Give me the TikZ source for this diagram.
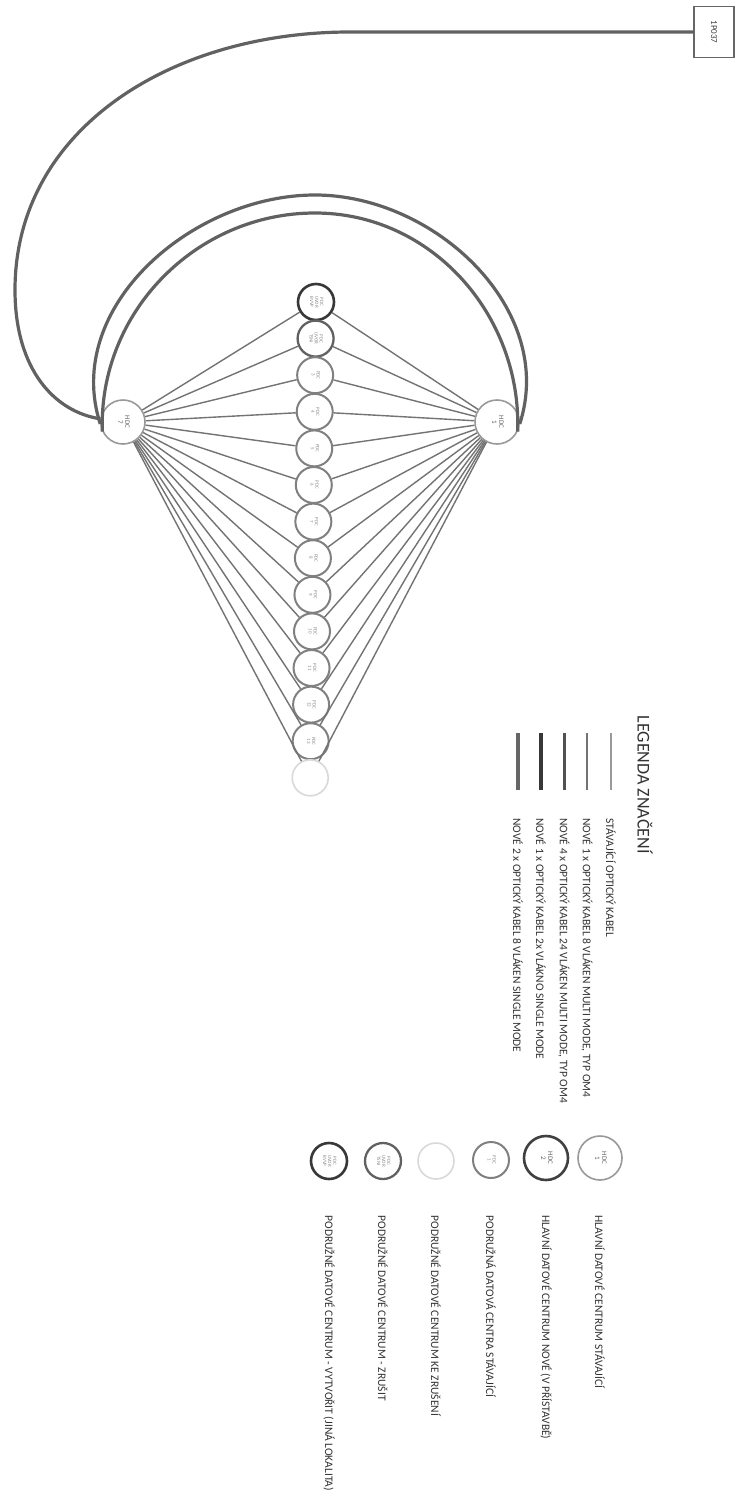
\documentclass[tikz,border=0pt]{standalone}
\usepackage{fontspec}
\setmainfont{Carlito}
\usetikzlibrary{calc}

\tikzset{
  hdc/.style={circle, minimum size=44pt, inner sep=0pt, draw=black!40, line width=1.6pt,
    font=\fontsize{7}{7}\selectfont, text=black!60},
  hdcnew/.style={hdc, draw=black!75, line width=2.6pt},
  pdc/.style={circle, minimum size=36pt, inner sep=0pt, draw=black!50, line width=2pt,
    font=\fontsize{5}{5}\selectfont, text=black!45},
  pdcnew/.style={pdc, draw=black!78, line width=2.6pt},
  pdcdel/.style={pdc, draw=black!62, line width=2.3pt},
  pdcold/.style={pdc, draw=black!15, line width=1.6pt},
  fibre/.style={black!55, line width=1.4pt},
  trunk/.style={black!62, line width=3.2pt},
  legtext/.style={rotate=-90, anchor=west, font=\fontsize{11.5}{11.5}\selectfont, text=black!80},
}
\newcommand{\rotlbl}[1]{\rotatebox{-90}{\begin{tabular}{@{}c@{}}#1\end{tabular}}}

\begin{document}
\begin{tikzpicture}[x=1pt, y=-1pt]
\useasboundingbox (0,0) rectangle (743,1501);
\fill[white] (0,0) rectangle (743,1501);

% hlavni datova centra
\node[hdc] (h7) at (123,422) {\rotlbl{HDC\\7}};
\node[hdc] (h1) at (497,422) {\rotlbl{HDC\\1}};
\node[draw=black!60, line width=1.5pt, minimum width=40pt, minimum height=51pt, inner sep=0pt,
  font=\fontsize{9}{9}\selectfont, text=black!75] (ext) at (714,32) {\rotatebox{-90}{1P037}};

% podruzna datova centra
\node[pdcnew] (p1) at (316,302) {\rotlbl{PDC\\UVOR\\BVVP}};
\node[pdcdel] (p2) at (315.6,338.6) {\rotlbl{PDC\\UVOR\\TSNI}};
\foreach \i in {3,...,13}
  \node[pdc] (p\i) at ({316.5-0.45*\i},{265.4+36.6*\i}) {\rotlbl{PDC\\\i}};
\node[pdcold] (p14) at (310.2,777.8) {};

% propojeni
\foreach \i in {1,...,14} {
  \draw[fibre] (h7) -- (p\i);
  \draw[fibre] (h1) -- (p\i);
}
\coordinate (ta) at (315,195);
\coordinate (tb) at (315,213);
\draw[trunk] (h7.185) to[out=108,in=180] (ta) to[out=0,in=72] (h1.-5);
\draw[trunk] (h7.205) to[out=92,in=180] (tb) to[out=0,in=88] (h1.-25);
\coordinate (bend) at (350,32);
\draw[trunk] (h7.172) .. controls (55,412) and (15,370) .. (15,290)
  .. controls (15,130) and (170,32) .. (bend) -- (ext);

% legenda vedeni
\node[rotate=-90, anchor=west, font=\fontsize{18}{18}\selectfont, text=black!80] (legtitle)
  at (645,712) {LEGENDA ZNAČENÍ};
\foreach \x/\col/\w/\txt in {
  611/black!40/1.5/{STÁVAJÍCÍ OPTICKÝ KABEL},
  587/black!55/2/{NOVÉ 1 x OPTICKÝ KABEL 8 VLÁKEN MULTI MODE, TYP OM4},
  564/black!68/3/{NOVÉ 4 x OPTICKÝ KABEL 24 VLÁKEN MULTI MODE, TYP OM4},
  541/black!78/3.5/{NOVÉ 1 x OPTICKÝ KABEL 2x VLÁKNO SINGLE MODE},
  518/black!60/4/{NOVÉ 2 x OPTICKÝ KABEL 8 VLÁKEN SINGLE MODE}} {
  \draw[draw=\col, line width=\w pt] (\x,733) -- (\x,790);
  \node[legtext] at (\x,815) {\txt};
}

% legenda uzlu
\node[hdc] (lh1) at (600,1158) {\rotlbl{HDC\\1}};
\node[hdcnew] (lh2) at (546,1158) {\rotlbl{HDC\\2}};
\node[pdc] (lp1) at (491,1160) {\rotlbl{PDC\\1}};
\node[pdcold] (lp2) at (436,1161) {};
\node[pdcdel] (lp3) at (383,1161) {\rotlbl{PDC\\UVOR\\TSNI}};
\node[pdcnew] (lp4) at (329,1161) {\rotlbl{PDC\\UVOR\\BVVP}};
\node[legtext] at (600,1212) {HLAVNÍ DATOVÉ CENTRUM STÁVAJÍCÍ};
\node[legtext] at (546,1212) {HLAVNÍ DATOVÉ CENTRUM NOVÉ (V PŘÍSTAVBĚ)};
\node[legtext] at (491,1212) {PODRUŽNÁ DATOVÁ CENTRA STÁVAJÍCÍ};
\node[legtext] at (436,1212) {PODRUŽNÉ DATOVÉ CENTRUM KE ZRUŠENÍ};
\node[legtext] at (383,1212) {PODRUŽNÉ DATOVÉ CENTRUM - ZRUŠIT};
\node[legtext] at (329,1212) {PODRUŽNÉ DATOVÉ CENTRUM - VYTVOŘIT (JINÁ LOKALITA)};
\end{tikzpicture}
\end{document}
